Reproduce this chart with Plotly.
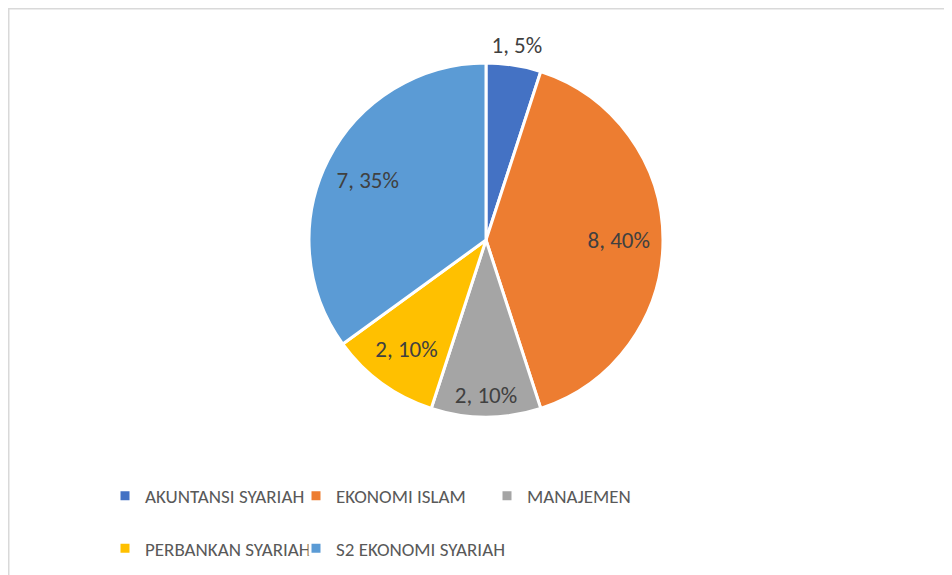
import plotly.graph_objects as go

categories = ["AKUNTANSI SYARIAH", "EKONOMI ISLAM", "MANAJEMEN", "PERBANKAN SYARIAH", "S2 EKONOMI SYARIAH"]
values = [1, 8, 2, 2, 7]
colors = ["#4472C4", "#ED7D31", "#A5A5A5", "#FFC000", "#5B9BD5"]

# the page body has an 8px margin, so the figure is 8px smaller and everything
# is laid out in figure pixels (= reference pixels - 8)
W, H = 944, 567
ML, MR, MT, MB = 97, 147, 0, 0
GW = W - ML - MR
GH = H - MT - MB
FONT = "Carlito, Calibri, Lato"
LABEL_SIZE = 23

# first legend row gets an extra blank line to reproduce the tall row spacing
legend_labels = [c + "<br> " if i < 3 else c for i, c in enumerate(categories)]


def px_x(x):
    return (x - ML) / GW


def px_y(y):
    return 1 - (y - MT) / GH


def dom(r):
    return dict(x=[px_x(CX - r), px_x(CX + r)], y=[px_y(CY + r), px_y(CY - r)])


CX, CY, R = 478, 232, 177      # pie centre / radius (figure px)

label_tmpl = "%{value}, %{percent:.0%}"
transparent = ["rgba(0,0,0,0)"] * len(values)

fig = go.Figure()

# visible pie
fig.add_trace(go.Pie(
    labels=legend_labels,
    values=values,
    sort=False,
    direction="clockwise",
    rotation=0,
    marker=dict(colors=colors, line=dict(color="white", width=3)),
    textinfo="none",
    domain=dom(R),
    hovertemplate="%{label}: %{value} (%{percent})<extra></extra>",
))

# transparent label carriers: (radius, hole, which slices they label)
carriers = [
    (R, 0.5, ["none", "inside", "none", "inside", "inside"]),
    (228, 0, ["inside", "none", "none", "none", "none"]),
    (203, 0, ["none", "none", "inside", "none", "none"]),
]
for radius, hole, positions in carriers:
    fig.add_trace(go.Pie(
        labels=categories,
        values=values,
        sort=False,
        direction="clockwise",
        rotation=0,
        hole=hole,
        marker=dict(colors=transparent, line=dict(width=0)),
        texttemplate=label_tmpl,
        textposition=positions,
        insidetextorientation="horizontal",
        textfont=dict(family=FONT, size=LABEL_SIZE, color="#404040"),
        domain=dom(radius),
        showlegend=False,
        hoverinfo="skip",
    ))

fig.update_layout(
    width=W, height=H,
    margin=dict(l=ML, r=MR, t=MT, b=MB),
    paper_bgcolor="white",
    plot_bgcolor="white",
    showlegend=True,
    legend=dict(
        orientation="h",
        x=0, xanchor="left",
        y=px_y(469), yanchor="top",
        entrywidthmode="pixels",
        entrywidth=146,
        valign="top",
        font=dict(family=FONT, size=19, color="#595959"),
        bgcolor="rgba(0,0,0,0)",
    ),
    shapes=[dict(
        type="rect", xref="paper", yref="paper",
        x0=px_x(0.75), x1=px_x(1000), y0=px_y(700), y1=px_y(0.75),
        line=dict(color="#D9D9D9", width=1.5),
        fillcolor="rgba(0,0,0,0)",
        layer="below",
    )],
)

fig.write_html("out.html")
